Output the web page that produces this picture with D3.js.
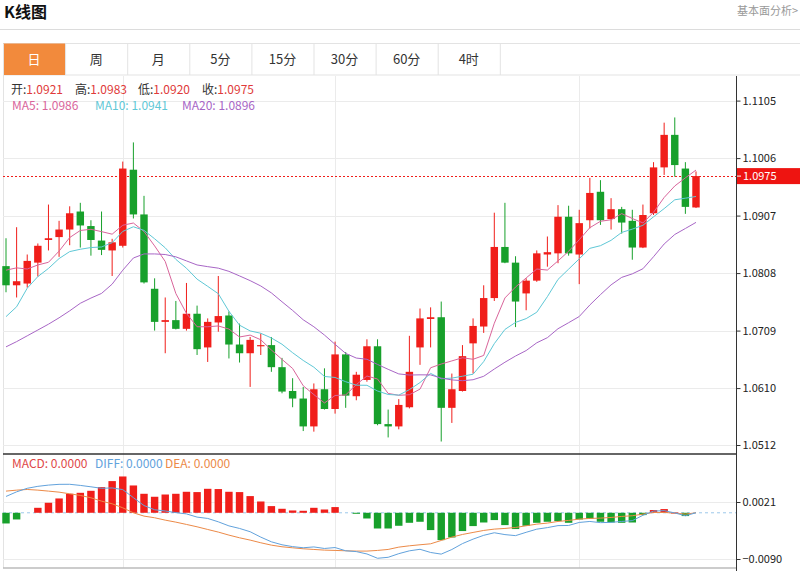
<!DOCTYPE html>
<html><head><meta charset="utf-8">
<script src="https://cdn.jsdelivr.net/npm/d3@7/dist/d3.min.js"></script>
<style>
html,body{margin:0;padding:0;background:#fff;}
svg{display:block;font-family:"Noto Sans CJK SC","Noto Sans",sans-serif;}
</style></head>
<body><svg id="c" width="800" height="571"></svg>
<script>
// ---------- data ----------
const tabs = ["日","周","月","5分","15分","30分","60分","4时"];
const opens = [1.0820,1.0787,1.0790,1.0826,1.0865,1.0870,1.0883,1.0914,1.0889,1.0864,
 1.0847,1.0855,1.0986,1.0909,1.0781,1.0724,1.0727,1.0712,1.0738,1.0680,
 1.0723,1.0735,1.0685,1.0670,1.0682,1.0684,1.0646,1.0605,1.0592,1.0544,
 1.0608,1.0574,1.0668,1.0596,1.0624,1.0682,1.0548,1.0544,1.0577,1.0680,
 1.0729,1.0732,1.0576,1.0605,1.0687,1.0716,1.0765,1.0853,1.0826,1.0773,
 1.0795,1.0840,1.0842,1.0905,1.0840,1.0899,1.0948,1.0901,1.0918,1.0898,
 1.0852,1.0911,1.0990,1.1046,1.0988,1.0921];
const highs = [1.0868,1.0887,1.0840,1.0859,1.0926,1.0898,1.0923,1.0929,1.0899,1.0914,
 1.0867,1.1000,1.1033,1.0941,1.0799,1.0766,1.0760,1.0791,1.0752,1.0730,
 1.0803,1.0742,1.0721,1.0698,1.0704,1.0698,1.0662,1.0627,1.0612,1.0618,
 1.0644,1.0690,1.0672,1.0638,1.0694,1.0694,1.0573,1.0591,1.0700,1.0747,
 1.0749,1.0759,1.0635,1.0684,1.0730,1.0787,1.0912,1.0929,1.0837,1.0799,
 1.0847,1.0871,1.0925,1.0924,1.0917,1.0972,1.0968,1.0937,1.0922,1.0917,
 1.0926,1.0999,1.1067,1.1076,1.0999,1.0983];
const lows = [1.0775,1.0766,1.0783,1.0802,1.0847,1.0836,1.0856,1.0852,1.0838,1.0839,
 1.0803,1.0852,1.0902,1.0790,1.0709,1.0670,1.0711,1.0709,1.0667,1.0655,
 1.0707,1.0661,1.0654,1.0612,1.0667,1.0638,1.0601,1.0577,1.0536,1.0535,
 1.0573,1.0566,1.0576,1.0589,1.0621,1.0546,1.0525,1.0539,1.0575,1.0650,
 1.0680,1.0518,1.0550,1.0604,1.0635,1.0705,1.0760,1.0825,1.0715,1.0744,
 1.0793,1.0819,1.0825,1.0838,1.0789,1.0885,1.0891,1.0883,1.0876,1.0831,
 1.0851,1.0908,1.0977,1.0974,1.0910,1.0920];
const closes = [1.0787,1.0794,1.0829,1.0855,1.0868,1.0883,1.0911,1.0890,1.0865,1.0848,
 1.0861,1.0988,1.0909,1.0792,1.0724,1.0727,1.0712,1.0738,1.0677,1.0724,
 1.0734,1.0685,1.0670,1.0693,1.0684,1.0646,1.0604,1.0592,1.0544,1.0608,
 1.0574,1.0668,1.0597,1.0633,1.0682,1.0548,1.0544,1.0581,1.0638,1.0730,
 1.0732,1.0576,1.0608,1.0665,1.0717,1.0765,1.0853,1.0826,1.0759,1.0795,
 1.0842,1.0844,1.0905,1.0842,1.0894,1.0946,1.0899,1.0918,1.0895,1.0852,
 1.0908,1.0990,1.1046,1.0994,1.0922,1.0975];
const ma5 = [1.0813,1.0817,1.0815,1.0822,1.08266,1.08458,1.08692,1.08814,1.08834,1.08794,
 1.08750,1.08904,1.08942,1.08796,1.08548,1.08280,1.07728,1.07386,1.07156,1.07156,
 1.07170,1.07116,1.06980,1.07012,1.06932,1.06756,1.06594,1.06438,1.06140,1.05988,
 1.05844,1.05972,1.05982,1.06160,1.06308,1.06256,1.06008,1.05976,1.05986,1.06082,
 1.06450,1.06514,1.06568,1.06622,1.06596,1.06662,1.07216,1.07652,1.07840,1.07996,
 1.08150,1.08132,1.08290,1.08456,1.08654,1.08862,1.08972,1.08998,1.09104,1.09020,
 1.08944,1.09126,1.09382,1.09580,1.09720,1.09854];
const ma10 = [1.0733,1.0750,1.0782,1.0802,1.0816,1.0833,1.0845,1.0849,1.0852,1.08530,
 1.08604,1.08798,1.08878,1.08815,1.08671,1.08515,1.08316,1.08164,1.07976,1.07852,
 1.07725,1.07422,1.07183,1.07084,1.07044,1.06963,1.06855,1.06709,1.06576,1.06460,
 1.06300,1.06283,1.06210,1.06150,1.06148,1.06050,1.05990,1.05979,1.06073,1.06195,
 1.06353,1.06261,1.06272,1.06304,1.06339,1.06556,1.06865,1.07110,1.07231,1.07296,
 1.07406,1.07674,1.07971,1.08148,1.08325,1.08506,1.08552,1.08644,1.08780,1.08837,
 1.08903,1.09049,1.09190,1.09342,1.09370,1.09399];
const ma20 = [1.0681,1.0690,1.0700,1.0710,1.0720,1.0731,1.0743,1.0756,1.0765,1.0773,
 1.0789,1.0813,1.0834,1.0841,1.0841,1.0840,1.0836,1.0829,1.0822,1.08191,
 1.08165,1.08110,1.08031,1.07950,1.07858,1.07739,1.07586,1.07437,1.07276,1.07156,
 1.07013,1.06853,1.06697,1.06617,1.06596,1.06507,1.06423,1.06344,1.06325,1.06328,
 1.06327,1.06272,1.06241,1.06227,1.06244,1.06303,1.06428,1.06545,1.06652,1.06746,
 1.06880,1.06968,1.07122,1.07226,1.07332,1.07531,1.07709,1.07877,1.08006,1.08067,
 1.08155,1.08362,1.08581,1.08745,1.08848,1.08953];
const macd = [-0.00208,-0.00130,0,0.00097,0.00195,0.00279,0.00370,0.00389,0.00428,0.00500,
 0.00617,0.00707,0.00532,0.00370,0.00312,0.00356,0.00370,0.00409,0.00403,0.00467,
 0.00462,0.00409,0.00403,0.00325,0.00220,0.00130,0.00078,0.00045,0.00039,0.00097,
 0.00064,0.00111,0,-0.00019,-0.00111,-0.00306,-0.00306,-0.00253,-0.00195,-0.00175,
 -0.00337,-0.00532,-0.00481,-0.00356,-0.00259,-0.00189,-0.00142,-0.00240,-0.00317,-0.00253,
 -0.00195,-0.00175,-0.00162,-0.00195,-0.00130,-0.00117,-0.00175,-0.00189,-0.00195,-0.00189,
 -0.00045,0.00053,0.00072,0.00005,-0.00064,0];
const diff = [0.00318,0.00408,0.00477,0.00515,0.00539,0.00554,0.00555,0.00533,0.00506,0.00477,
 0.00484,0.00451,0.00295,0.00141,0.00059,0.00035,0.00003,-0.00022,-0.00084,-0.00110,
 -0.00176,-0.00255,-0.00305,-0.00369,-0.00474,-0.00565,-0.00623,-0.00659,-0.00681,-0.00665,
 -0.00695,-0.00677,-0.00740,-0.00756,-0.00802,-0.00886,-0.00867,-0.00796,-0.00741,-0.00711,
 -0.00773,-0.00805,-0.00715,-0.00600,-0.00513,-0.00439,-0.00389,-0.00425,-0.00445,-0.00380,
 -0.00319,-0.00289,-0.00250,-0.00247,-0.00188,-0.00169,-0.00192,-0.00186,-0.00169,-0.00153,
 -0.00049,0.00033,0.00042,-0.00003,-0.00058,0];
const dea = [0.00422,0.00441,0.00454,0.00441,0.00422,0.00402,0.00370,0.00338,0.00292,0.00227,
 0.00175,0.00097,0.00000,-0.00065,-0.00097,-0.00143,-0.00182,-0.00227,-0.00273,-0.00325,
 -0.00376,-0.00435,-0.00487,-0.00532,-0.00584,-0.00630,-0.00662,-0.00682,-0.00701,-0.00714,
 -0.00727,-0.00733,-0.00740,-0.00746,-0.00746,-0.00733,-0.00714,-0.00669,-0.00643,-0.00623,
 -0.00604,-0.00539,-0.00474,-0.00422,-0.00383,-0.00344,-0.00318,-0.00305,-0.00286,-0.00253,
 -0.00221,-0.00201,-0.00169,-0.00149,-0.00123,-0.00110,-0.00104,-0.00091,-0.00071,-0.00058,
 -0.00026,0.00006,0.00006,-0.00006,-0.00026,0];
const priceTicks = [1.1105,1.1006,1.0907,1.0808,1.0709,1.0610,1.0512];
const macdTicks = [0.0021,-0.0090];
const gridIdx = [11,31,54];
const lastPrice = 1.0975;
const ohlcLegend = [["开:","1.0921"],["高:","1.0983"],["低:","1.0920"],["收:","1.0975"]];
const maLegend = [["MA5: 1.0986","ma5"],["MA10: 1.0941","ma10"],["MA20: 1.0896","ma20"]];
const macdLegend = [["MACD: 0.0000","macd"],["DIFF: 0.0000","diff"],["DEA: 0.0000","dea"]];

// ---------- styles ----------
const RED="#f01e1a", GREEN="#17a02b";
const COL={ma5:"#d9659b", ma10:"#5fc8d6", ma20:"#a866c6", macd:"#e04848", diff:"#62a2dc", dea:"#ec8a48"};
const GRID="#ebebeb";
const svg=d3.select("#c");
const L=3, AX=736, TOP=76, MAINB=454, MB=568;

// header
svg.append("text").attr("x",4).attr("y",18).attr("font-size",16).attr("font-weight","bold").attr("fill","#111").text("K线图");
svg.append("text").attr("x",798).attr("y",15).attr("text-anchor","end").attr("font-size",11).attr("fill","#999").text("基本面分析>");
svg.append("line").attr("x1",0).attr("x2",800).attr("y1",29.5).attr("y2",29.5).attr("stroke","#dcdcdc");

// tabs
const tabW=62.1, tabX0=3, tabY=43.5, tabH=31.5;
svg.append("line").attr("x1",tabX0).attr("x2",800).attr("y1",tabY).attr("y2",tabY).attr("stroke","#e3e3e3");
svg.append("line").attr("x1",tabX0).attr("x2",800).attr("y1",tabY+tabH).attr("y2",tabY+tabH).attr("stroke","#e3e3e3");
const tg=svg.append("g");
tabs.forEach((t,i)=>{
  const x=tabX0+i*tabW;
  if(i===0) tg.append("rect").attr("x",x).attr("y",tabY).attr("width",tabW).attr("height",tabH).attr("fill","#f28a3c");
  tg.append("line").attr("x1",x+tabW+0.5).attr("x2",x+tabW+0.5).attr("y1",tabY).attr("y2",tabY+tabH).attr("stroke","#e3e3e3");
  tg.append("text").attr("x",x+tabW/2).attr("y",tabY+tabH/2+4.5).attr("text-anchor","middle").attr("font-size",13)
    .attr("fill",i===0?"#fff":"#333").text(t);
});
svg.append("line").attr("x1",tabX0+0.5).attr("x2",tabX0+0.5).attr("y1",tabY).attr("y2",MB).attr("stroke","#e3e3e3");

// scales
const idx=closes.map((_,i)=>i);
const x=d3.scalePoint().domain(idx).range([6,696]);
const bw=x.step()*0.7;
const y=d3.scaleLinear().domain([1.0512,1.1105]).range([445,100.6]);
const ym=d3.scaleLinear().domain([-0.0090,0.0021]).range([559,502]);

// grid
const g=svg.append("g");
priceTicks.forEach(v=>g.append("line").attr("x1",L).attr("x2",AX).attr("y1",Math.round(y(v))+0.5).attr("y2",Math.round(y(v))+0.5).attr("stroke",GRID));
macdTicks.forEach(v=>g.append("line").attr("x1",L).attr("x2",AX).attr("y1",Math.round(ym(v))+0.5).attr("y2",Math.round(ym(v))+0.5).attr("stroke",GRID));
gridIdx.forEach(i=>g.append("line").attr("x1",Math.round(x(i))+0.5).attr("x2",Math.round(x(i))+0.5).attr("y1",TOP).attr("y2",MB).attr("stroke",GRID));

// current price line
svg.append("line").attr("x1",L).attr("x2",AX).attr("y1",Math.round(y(lastPrice))+0.5).attr("y2",Math.round(y(lastPrice))+0.5)
  .attr("stroke",RED).attr("stroke-dasharray","2,2").attr("stroke-width",1);

// candles
const cg=svg.append("g");
idx.forEach(i=>{
  const up=closes[i]>=opens[i], c=up?RED:GREEN, cx=x(i);
  cg.append("line").attr("x1",cx).attr("x2",cx).attr("y1",y(highs[i])).attr("y2",y(lows[i])).attr("stroke",c).attr("stroke-width",1);
  const t=y(Math.max(opens[i],closes[i])), b=y(Math.min(opens[i],closes[i]));
  cg.append("rect").attr("x",cx-bw/2).attr("y",t).attr("width",bw).attr("height",Math.max(1.2,b-t)).attr("fill",c);
});

// MA lines
const line=d3.line().x((d,i)=>x(i)).y(d=>y(d));
[["ma5",ma5],["ma10",ma10],["ma20",ma20]].forEach(([k,arr])=>{
  svg.append("path").attr("d",line(arr)).attr("fill","none").attr("stroke",COL[k]).attr("stroke-width",1);
});

// MACD
svg.append("line").attr("x1",L).attr("x2",AX).attr("y1",ym(0)).attr("y2",ym(0)).attr("stroke","#9cc8ea").attr("stroke-dasharray","3,3");
const mg=svg.append("g");
idx.forEach(i=>{
  const v=macd[i]; if(v===0) return;
  const a=ym(v), z=ym(0);
  mg.append("rect").attr("x",x(i)-bw/2).attr("y",Math.min(a,z)).attr("width",bw).attr("height",Math.max(1,Math.abs(a-z))).attr("fill",v>0?RED:GREEN);
});
const mline=d3.line().x((d,i)=>x(i)).y(d=>ym(d));
svg.append("path").attr("d",mline(dea)).attr("fill","none").attr("stroke",COL.dea).attr("stroke-width",1);
svg.append("path").attr("d",mline(diff)).attr("fill","none").attr("stroke",COL.diff).attr("stroke-width",1);

// panel borders
svg.append("line").attr("x1",L).attr("x2",AX).attr("y1",MAINB).attr("y2",MAINB).attr("stroke","#333").attr("stroke-width",1.5);
svg.append("line").attr("x1",L).attr("x2",AX).attr("y1",MB).attr("y2",MB).attr("stroke","#bbb").attr("stroke-width",1.5);
svg.append("line").attr("x1",AX+0.5).attr("x2",AX+0.5).attr("y1",TOP).attr("y2",571).attr("stroke","#333").attr("stroke-width",1);

// axes
const ax=svg.append("g").attr("transform",`translate(${AX+0.5},0)`)
  .call(d3.axisRight(y).tickValues(priceTicks).tickFormat(d3.format(".4f")).tickSize(4).tickPadding(2));
const axm=svg.append("g").attr("transform",`translate(${AX+0.5},0)`)
  .call(d3.axisRight(ym).tickValues(macdTicks).tickFormat(d3.format(".4f")).tickSize(4).tickPadding(2));
[ax,axm].forEach(a=>{
  a.select(".domain").remove();
  a.selectAll("text").attr("font-size",11).attr("fill","#222").attr("font-family","'Noto Sans CJK SC','Noto Sans',sans-serif");
  a.selectAll("line").attr("stroke","#333");
});

// price label
const py=y(lastPrice);
svg.append("rect").attr("x",AX+1).attr("y",py-8).attr("width",800-AX-1).attr("height",16).attr("fill","#ee1411");
svg.append("line").attr("x1",AX+1).attr("x2",AX+5).attr("y1",py).attr("y2",py).attr("stroke","#fff");
svg.append("text").attr("x",AX+7).attr("y",py+4).attr("font-size",11).attr("fill","#fff").text(lastPrice.toFixed(4));

// legends
const lg=svg.append("g").attr("font-size",12);
const ohX=[11,75,138,202];
ohlcLegend.forEach((d,i)=>{
  const t=lg.append("text").attr("x",ohX[i]).attr("y",94);
  t.append("tspan").attr("fill","#333").text(d[0]);
  t.append("tspan").attr("fill","#e03a3a").text(d[1]);
});
const maX=[12,95,182];
maLegend.forEach((d,i)=>lg.append("text").attr("x",maX[i]).attr("y",110).attr("fill",COL[d[1]]).text(d[0]));
const mX=[12,95,165];
macdLegend.forEach((d,i)=>lg.append("text").attr("x",mX[i]).attr("y",468).attr("fill",COL[d[1]]).text(d[0]));
</script></body></html>
